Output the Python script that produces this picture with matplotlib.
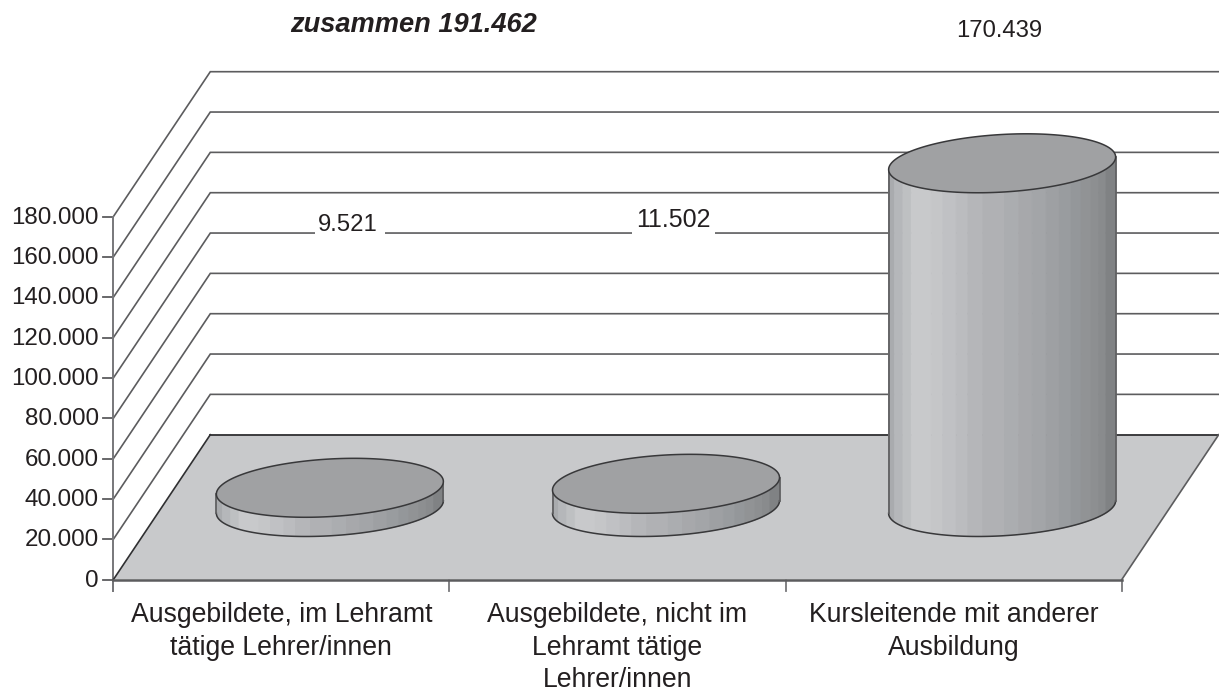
import numpy as np
import matplotlib
matplotlib.use("Agg")
import matplotlib.pyplot as plt
from matplotlib.patches import Polygon, Rectangle

plt.rcParams['font.family'] = ['Liberation Sans', 'DejaVu Sans']

categories = ["Ausgebildete, im Lehramt\ntätige Lehrer/innen",
              "Ausgebildete, nicht im\nLehramt tätige\nLehrer/innen",
              "Kursleitende mit anderer\nAusbildung"]
values = [9521, 11502, 170439]
value_labels = ["9.521", "11.502", "170.439"]
ticks = [0, 20000, 40000, 60000, 80000, 100000, 120000, 140000, 160000, 180000]
tick_labels = ["0", "20.000", "40.000", "60.000", "80.000", "100.000",
               "120.000", "140.000", "160.000", "180.000"]
title = "zusammen 191.462"

# layout in pixels
X0, X1, Y0 = 113.3, 1121.7, 579.7
DX, DY = 97.0, 145.0
PX_PER_UNIT = 363.0 / 180000.0
BAR_RX, BAR_RY, BAR_SKEW = 113.5, 28.8, -6.3
FLOOR_Y_CENTER = 507.0

GRID = "#5c5c5e"
AXIS = "#77777a"
FLOOR = "#c8c9cb"
TOP = "#a0a1a3"
LINE = "#38383a"
TEXT = "#231f20"

# side shading bands: fractional edges across the cylinder and grey level
band_edges = np.array([87, 105, 130, 155, 215, 250, 290, 325, 370, 435, 478,
                       518, 560, 600, 635, 665, 695, 718, 740, 769], float)
band_edges = (band_edges - band_edges[0]) / (band_edges[-1] - band_edges[0])
band_colors = ["#a9abae", "#b5b7ba", "#bec0c2", "#c8c9cb", "#c5c6c8", "#c0c1c4",
               "#bbbcbf", "#b5b6b9", "#b0b1b4", "#abadb0", "#a7a8ab", "#a3a5a8",
               "#9ea0a3", "#999c9f", "#94979a", "#919395", "#8d8f91", "#898b8d",
               "#808284"]

fig = plt.figure(figsize=(12.19, 6.93), dpi=100)
ax = fig.add_axes([0, 0, 1, 1])
ax.set_xlim(0, 1219)
ax.set_ylim(693, 0)
ax.axis("off")


def vy(v):
    return Y0 - v * PX_PER_UNIT


# walls
for t, lab in zip(ticks, tick_labels):
    y = vy(t)
    if t > 0:
        ax.plot([X0, X0 + DX, X1 + DX], [y, y - DY, y - DY],
                color=GRID, lw=1.2, zorder=1, solid_joinstyle="miter")
    ax.plot([X0 - 10, X0], [y, y], color=GRID, lw=1.3, zorder=1)
    ax.text(98.5, y + 7, lab, ha="right", va="baseline", fontsize=17.4, color=TEXT)
ax.plot([X0, X0], [vy(ticks[-1]), Y0 + 11], color=AXIS, lw=1.4, zorder=1)

# floor
back = Y0 - DY
ax.add_patch(Polygon([(X0, Y0), (X1, Y0), (X1 + DX, back), (X0 + DX, back)],
                     closed=True, facecolor=FLOOR, edgecolor="none", zorder=2))
ax.plot([X0 + DX, X1 + DX], [back, back], color="#303032", lw=1.3, zorder=2.1)
ax.plot([X0, X0 + DX], [Y0, back], color="#303032", lw=1.2, zorder=2.1)
ax.plot([X1, X1 + DX], [Y0, back], color=GRID, lw=1.2, zorder=2.1)
ax.plot([X0, X1], [Y0, Y0], color=GRID, lw=1.8, zorder=2.1)

# category ticks and labels
n = len(categories)
step = (X1 - X0) / n
for i in range(n + 1):
    x = X0 + i * step
    ax.plot([x, x], [Y0, Y0 + 11], color=AXIS, lw=1.3, zorder=1)
for i, c in enumerate(categories):
    ax.text(X0 + (i + 0.5) * step, 602, c, ha="center", va="top", fontsize=19.2,
            color=TEXT, linespacing=1.33)

# cylinders
phi = np.linspace(0, 2 * np.pi, 241)
front = np.linspace(0, np.pi, 121)
centers = [X0 + (i + 0.5) * step + DX / 2 for i in range(n)]
for cx, v in zip(centers, values):
    h = v * PX_PER_UNIT
    yb, yt = FLOOR_Y_CENTER, FLOOR_Y_CENTER - h

    def rim(t, yc):
        return cx + BAR_RX * np.cos(t), yc + BAR_RY * np.sin(t) + BAR_SKEW * np.cos(t)

    for k, col in enumerate(band_colors):
        ta = np.arccos(1 - 2 * band_edges[k])
        tb = np.arccos(1 - 2 * band_edges[k + 1])
        t = np.pi - np.linspace(ta, tb, 12)
        xb, ybb = rim(t, yb)
        xt, ytt = rim(t, yt)
        ax.fill(np.r_[xb, xt[::-1]], np.r_[ybb, ytt[::-1]],
                facecolor=col, edgecolor=col, lw=0.6, zorder=3)

    xb, ybb = rim(front, yb)
    ax.plot(xb, ybb, color=LINE, lw=1.1, zorder=3.5)
    for t0 in (0, np.pi):
        xa, ya = rim(np.array([t0]), yb)
        xc, yc = rim(np.array([t0]), yt)
        ax.plot([xa[0], xc[0]], [ya[0], yc[0]], color="#606062", lw=1.3, zorder=3.5)
    xt, ytt = rim(phi, yt)
    ax.fill(xt, ytt, facecolor=TOP, edgecolor=LINE, lw=1.1, zorder=4)

# value labels, with the white gaps they leave in the gridline
label_pos = [(347.5, 231), (673, 227), (999.5, 37)]
label_sizes = [17.2, 18.0, 17.2]
for (lx, ly), s, fs in zip(label_pos, value_labels, label_sizes):
    ax.text(lx, ly, s, ha="center", va="baseline", fontsize=fs, color=TEXT, zorder=2.5)
for gx0, gx1 in [(315, 384.5), (632, 714.5)]:
    ax.add_patch(Rectangle((gx0, 228), gx1 - gx0, 9, facecolor="white",
                           edgecolor="none", zorder=1.5))

ax.text(414, 31.5, title, ha="center", va="baseline", fontsize=19.6, color=TEXT,
        fontweight="bold", fontstyle="italic")

fig.savefig("out.png", dpi=100, facecolor="white")
